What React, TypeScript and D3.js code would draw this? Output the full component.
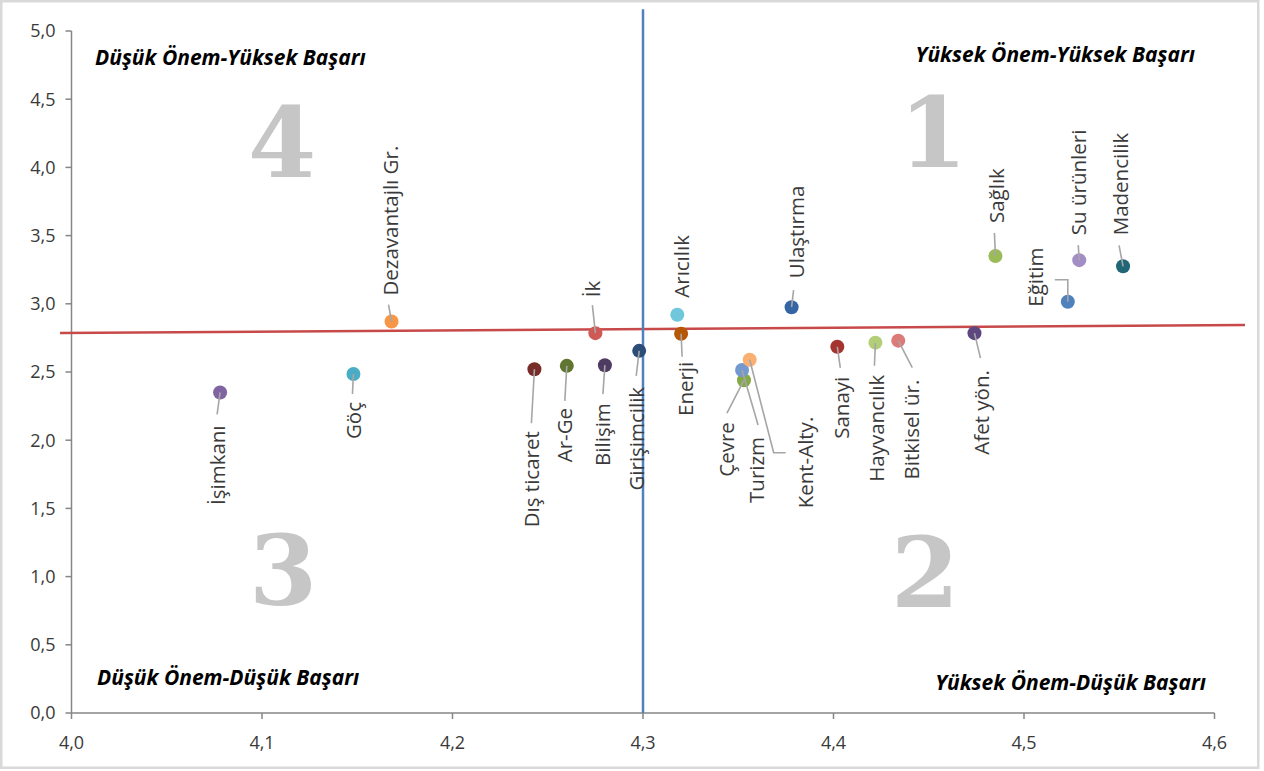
import React from "react";
import * as d3 from "d3";

// ---- Data ----
const names = [
  "İşimkanı", "Göç", "Dezavantajlı Gr.", "Dış ticaret", "Ar-Ge", "Bilişim",
  "Girişimcilik", "İk", "Arıcılık", "Enerji", "Çevre", "Turizm", "Kent-Alty.",
  "Ulaştırma", "Sanayi", "Hayvancılık", "Bitkisel ür.", "Afet yön.", "Sağlık",
  "Eğitim", "Su ürünleri", "Madencilik",
];
const importance = [
  4.078, 4.148, 4.168, 4.243, 4.260, 4.280, 4.298, 4.275, 4.318, 4.320, 4.353,
  4.352, 4.356, 4.378, 4.402, 4.422, 4.434, 4.474, 4.485, 4.523, 4.529, 4.552,
];
const success = [
  2.35, 2.485, 2.87, 2.52, 2.545, 2.55, 2.655, 2.785, 2.92, 2.78, 2.44, 2.515,
  2.59, 2.975, 2.685, 2.715, 2.73, 2.785, 3.35, 3.015, 3.32, 3.275,
];
const xTicks = [4.0, 4.1, 4.2, 4.3, 4.4, 4.5, 4.6];
const yTicks = [0, 0.5, 1, 1.5, 2, 2.5, 3, 3.5, 4, 4.5, 5];
const vLineX = [4.3, 4.3];
const vLineY = [0, 5.16];
const hLineX = [3.994, 4.616];
const hLineY = [2.786, 2.845];
const quadrantTitles = [
  "Düşük Önem-Yüksek Başarı",
  "Yüksek Önem-Yüksek Başarı",
  "Düşük Önem-Düşük Başarı",
  "Yüksek Önem-Düşük Başarı",
];
const quadrantNumbers = ["4", "1", "3", "2"];

// ---- Styles / layout ----
const colors = [
  "#8064A2", "#4BACC6", "#F79646", "#772C2A", "#5F7530", "#4D3B62", "#2C4D75",
  "#CF5955", "#70C6DA", "#B65708", "#86A948", "#7399CF", "#F9B072", "#3465A4",
  "#A5332F", "#B2CF78", "#DC7B78", "#5E4780", "#9BBB59", "#4F81BD", "#A38DC5",
  "#216677",
];
type Lay = { side: "below" | "above"; dx: number; dy: number; leader: number[][] };
const labelLayout: Lay[] = [
  { side: "below", dx: -2, dy: 33, leader: [[-3, 22]] },
  { side: "below", dx: 0, dy: 28, leader: [[-1, 20]] },
  { side: "above", dx: -1, dy: -26, leader: [[-3, -17]] },
  { side: "below", dx: -3, dy: 62, leader: [[-3, 54]] },
  { side: "below", dx: -2, dy: 42, leader: [[-2, 35]] },
  { side: "below", dx: -2, dy: 38, leader: [[-2, 29]] },
  { side: "below", dx: -2, dy: 36, leader: [[-3, 25]] },
  { side: "above", dx: -3, dy: -36, leader: [[-3, -28]] },
  { side: "above", dx: 5, dy: -17, leader: [] },
  { side: "below", dx: 5, dy: 28, leader: [[1, 23]] },
  { side: "below", dx: -17, dy: 42, leader: [[-17, 33]] },
  { side: "below", dx: 15, dy: 67, leader: [[16, 55]] },
  { side: "below", dx: 56, dy: 57, leader: [[24, 93], [36, 93]] },
  { side: "above", dx: 5, dy: -29, leader: [[2, -17]] },
  { side: "below", dx: 5, dy: 30, leader: [[3, 21]] },
  { side: "below", dx: 1, dy: 32, leader: [[-1, 23]] },
  { side: "below", dx: 14, dy: 39, leader: [[14, 27]] },
  { side: "below", dx: 7, dy: 37, leader: [[6, 25]] },
  { side: "above", dx: 1, dy: -33, leader: [[-1, -23]] },
  { side: "above", dx: -32, dy: 5, leader: [[0, -22], [-13, -22]] },
  { side: "above", dx: 0, dy: -25, leader: [[-1, -15]] },
  { side: "above", dx: -2, dy: -31, leader: [[-4, -21]] },
];

const W = 1264;
const H = 771;
const X0 = 71.5;
const X1 = 1214.5;
const Y0 = 713;
const Y1 = 31;
const FONT = "'Open Sans', 'DejaVu Sans', sans-serif";

export default function App() {
  const x = d3.scaleLinear().domain([4.0, 4.6]).range([X0, X1]);
  const y = d3.scaleLinear().domain([0, 5]).range([Y0, Y1]);
  const fmt = (v: number) => d3.format(".1f")(v).replace(".", ",");
  const vPath = d3.line()(vLineX.map((v, i) => [x(v), y(vLineY[i])] as [number, number]));
  const hPath = d3.line()(hLineX.map((v, i) => [x(v), y(hLineY[i])] as [number, number]));

  const titlePos = [
    { x: 95, y: 65, anchor: "start" },
    { x: 1195, y: 62, anchor: "end" },
    { x: 97, y: 685, anchor: "start" },
    { x: 1206, y: 690, anchor: "end" },
  ];
  const numPos = [
    { x: 282, y: 177 },
    { x: 933, y: 167 },
    { x: 283, y: 605 },
    { x: 925, y: 607 },
  ];

  return (
    <div style={{ position: "absolute", left: 0, top: 0 }}>
      <svg width={W} height={H} style={{ display: "block", background: "#fff" }}>
        <rect x={1.25} y={1.25} width={1257} height={766.5} fill="#fff" stroke="#d9d9d9" strokeWidth={2.5} />

        {/* quadrant numbers */}
        {quadrantNumbers.map((n, i) => (
          <text
            key={"n" + i}
            x={numPos[i].x}
            y={numPos[i].y}
            textAnchor="middle"
            fontFamily="'DejaVu Serif', serif"
            fontWeight="bold"
            fontSize={98}
            fill="#c6c6c6"
          >
            {n}
          </text>
        ))}

        {/* quadrant titles */}
        {quadrantTitles.map((t, i) => (
          <text
            key={"t" + i}
            x={titlePos[i].x}
            y={titlePos[i].y}
            textAnchor={titlePos[i].anchor as any}
            fontFamily={FONT}
            fontWeight="bold"
            fontStyle="italic"
            fontSize={21}
            fill="#000"
          >
            {t}
          </text>
        ))}

        {/* axes */}
        <line x1={X0} x2={X0} y1={Y1} y2={Y0} stroke="#868686" strokeWidth={1.5} />
        <line x1={X0} x2={X1} y1={Y0} y2={Y0} stroke="#868686" strokeWidth={1.5} />
        {yTicks.map((t) => (
          <g key={"y" + t}>
            <line x1={X0 - 6} x2={X0} y1={y(t)} y2={y(t)} stroke="#868686" strokeWidth={1.5} />
            <text
              x={X0 - 16}
              y={y(t)}
              dy="0.35em"
              textAnchor="end"
              fontFamily={FONT}
              fontSize={18}
              fill="#3a3a3a"
            >
              {fmt(t)}
            </text>
          </g>
        ))}
        {xTicks.map((t) => (
          <g key={"x" + t}>
            <line x1={x(t)} x2={x(t)} y1={Y0} y2={Y0 + 6} stroke="#868686" strokeWidth={1.5} />
            <text
              x={x(t)}
              y={Y0 + 30}
              dy="0.35em"
              textAnchor="middle"
              fontFamily={FONT}
              fontSize={18}
              fill="#3a3a3a"
            >
              {fmt(t)}
            </text>
          </g>
        ))}

        {/* reference lines */}
        <path d={hPath || ""} stroke="#C8494A" strokeWidth={2.5} fill="none" />
        <path d={vPath || ""} stroke="#4F81BD" strokeWidth={2.5} fill="none" />

        {/* points */}
        {names.map((n, i) => (
          <circle key={"p" + i} cx={x(importance[i])} cy={y(success[i])} r={7} fill={colors[i]} />
        ))}

        {/* leaders */}
        {names.map((n, i) => {
          const px = x(importance[i]);
          const py = y(success[i]);
          const L = labelLayout[i].leader;
          if (!L.length) return null;
          const pts: [number, number][] = [[px, py], ...L.map((p) => [px + p[0], py + p[1]] as [number, number])];
          return <path key={"l" + i} d={d3.line()(pts) || ""} stroke="#a6a6a6" strokeWidth={1.6} fill="none" />;
        })}

        {/* labels */}
        {names.map((n, i) => {
          const px = x(importance[i]);
          const py = y(success[i]);
          const lay = labelLayout[i];
          return (
            <text
              key={"lab" + i}
              transform={`translate(${px + lay.dx},${py + lay.dy}) rotate(-90)`}
              textAnchor={lay.side === "below" ? "end" : "start"}
              dy="0.35em"
              fontFamily={FONT}
              fontSize={20.5}
              fill="#3a3a3a"
            >
              {n}
            </text>
          );
        })}
      </svg>
    </div>
  );
}
